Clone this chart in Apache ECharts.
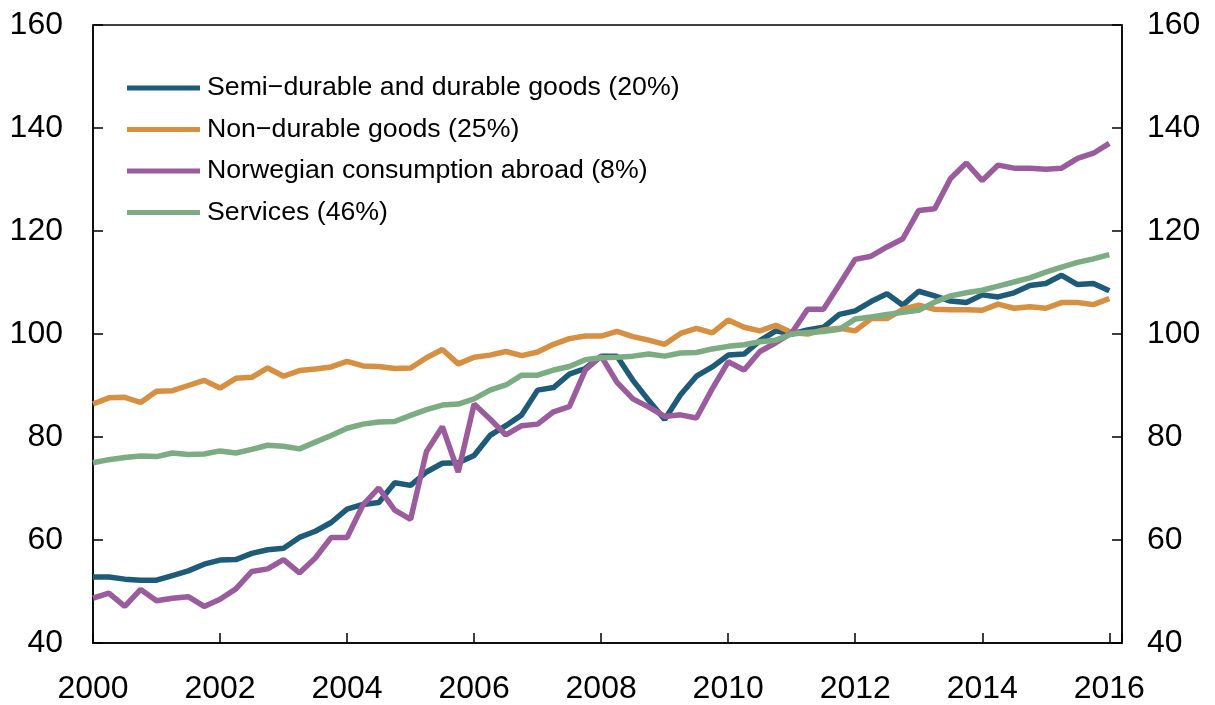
<!DOCTYPE html>
<html>
<head>
<meta charset="utf-8">
<script src="https://cdn.jsdelivr.net/npm/echarts@6/dist/echarts.min.js"></script>
<style>
  html, body { margin: 0; padding: 0; background: #fff; }
  #chart { width: 1215px; height: 705px; }
</style>
</head>
<body>
<div id="chart"></div>
<script>
// quarterly index series, 2000Q1 .. 2016Q1
const startYear = 2000;
const yearTicks = [2000, 2002, 2004, 2006, 2008, 2010, 2012, 2014, 2016];

const semiDurable = [
  52.8, 52.8, 52.4, 52.2, 52.2, 53.1, 54.0, 55.3, 56.1, 56.2,
  57.4, 58.1, 58.4, 60.5, 61.7, 63.4, 66.0, 66.9, 67.3, 71.1,
  70.6, 73.2, 74.9, 75.0, 76.4, 80.3, 82.2, 84.3, 89.1, 89.6,
  92.2, 93.3, 95.7, 95.7, 91.0, 87.1, 83.4, 88.2, 91.8, 93.6,
  95.9, 96.1, 98.7, 100.6, 100.0, 100.8, 101.3, 103.8, 104.5, 106.3,
  107.8, 105.6, 108.3, 107.4, 106.4, 106.1, 107.6, 107.2, 108.0, 109.4,
  109.8, 111.4, 109.6, 109.8, 108.4
];
const nonDurable = [
  86.4, 87.6, 87.7, 86.7, 88.9, 89.0, 90.0, 91.0, 89.5, 91.4,
  91.6, 93.4, 91.8, 92.9, 93.2, 93.6, 94.7, 93.8, 93.7, 93.3,
  93.4, 95.4, 97.0, 94.2, 95.5, 95.9, 96.6, 95.8, 96.5, 98.0,
  99.1, 99.6, 99.6, 100.5, 99.5, 98.8, 98.0, 100.1, 101.1, 100.2,
  102.7, 101.3, 100.6, 101.7, 100.3, 100.0, 100.8, 101.1, 100.6, 103.0,
  103.0, 104.8, 105.6, 104.8, 104.7, 104.7, 104.6, 105.8, 105.0, 105.3,
  105.0, 106.1, 106.1, 105.7, 106.9
];
const abroad = [
  48.7, 49.7, 47.1, 50.4, 48.2, 48.7, 49.0, 47.1, 48.5, 50.5,
  53.9, 54.4, 56.2, 53.6, 56.5, 60.5, 60.5, 66.8, 70.1, 65.8,
  64.0, 77.2, 82.0, 73.2, 86.4, 83.5, 80.4, 82.2, 82.5, 84.9,
  85.9, 93.0, 95.7, 90.6, 87.4, 85.8, 84.0, 84.3, 83.7, 89.4,
  94.6, 93.0, 96.6, 98.3, 100.2, 104.8, 104.8, 109.6, 114.5, 115.1,
  116.9, 118.5, 124.0, 124.3, 130.2, 133.2, 129.8, 132.8, 132.2, 132.2,
  132.0, 132.2, 134.1, 135.1, 137.0
];
const services = [
  75.0, 75.6, 76.0, 76.3, 76.2, 76.9, 76.6, 76.7, 77.3, 76.9,
  77.6, 78.4, 78.2, 77.7, 79.0, 80.3, 81.7, 82.5, 82.9, 83.0,
  84.2, 85.3, 86.2, 86.4, 87.4, 89.1, 90.1, 92.0, 92.0, 93.0,
  93.7, 95.0, 95.4, 95.5, 95.7, 96.1, 95.7, 96.3, 96.4, 97.1,
  97.6, 97.9, 98.5, 98.8, 100.0, 100.3, 100.5, 100.9, 102.9, 103.3,
  103.8, 104.2, 104.6, 106.2, 107.4, 108.0, 108.5, 109.3, 110.1, 110.9,
  112.0, 113.0, 113.9, 114.6, 115.4
];

const seriesNames = [
  'Semi\u2212durable and durable goods (20%)',
  'Non\u2212durable goods (25%)',
  'Norwegian consumption abroad (8%)',
  'Services (46%)'
];
const seriesColors = ['#1e5b79', '#d78f42', '#9a5c9c', '#7cac82'];
const seriesValues = [semiDurable, nonDurable, abroad, services];

const font = 'Liberation Sans';

function toPoints(values) {
  return values.map((v, i) => [startYear + i / 4, v]);
}

function yAxisFor(position, margin) {
  return {
    type: 'value',
    position: position,
    min: 40,
    max: 160,
    interval: 20,
    axisLine: { show: true, lineStyle: { color: '#000', width: 1.5 } },
    axisTick: { show: true, inside: true, length: 10, lineStyle: { color: '#000', width: 1.5 } },
    axisLabel: { color: '#000', fontSize: 32, fontFamily: font, margin: margin },
    splitLine: { show: false }
  };
}

const chart = echarts.init(document.getElementById('chart'));
chart.setOption({
  animation: false,
  backgroundColor: '#fff',
  grid: {
    left: 93, right: 93, top: 25, bottom: 60,
    show: true, borderColor: '#000', borderWidth: 1.5
  },
  legend: {
    left: 127,
    top: 73,
    padding: 0,
    orient: 'vertical',
    icon: 'rect',
    itemWidth: 73,
    itemHeight: 5,
    itemGap: 11.5,
    textStyle: { color: '#000', fontSize: 26.7, fontFamily: font, lineHeight: 30, padding: [0, 0, 0, 2] },
    data: seriesNames
  },
  xAxis: {
    type: 'value',
    min: 2000,
    max: 2016.2,
    interval: 2,
    axisLine: { show: true, lineStyle: { color: '#000', width: 1.5 } },
    axisTick: { show: true, inside: true, length: 10, lineStyle: { color: '#000', width: 1.5 } },
    axisLabel: {
      color: '#000', fontSize: 32, fontFamily: font, margin: 30,
      formatter: v => (yearTicks.indexOf(Math.round(v * 100) / 100) >= 0 ? String(v) : '')
    },
    splitLine: { show: false }
  },
  yAxis: [yAxisFor('left', 30), yAxisFor('right', 25)],
  series: seriesNames.map((name, k) => ({
    name: name,
    type: 'line',
    data: toPoints(seriesValues[k]),
    showSymbol: false,
    symbol: 'none',
    lineStyle: { color: seriesColors[k], width: 5.5 },
    itemStyle: { color: seriesColors[k] }
  }))
});
</script>
</body>
</html>
